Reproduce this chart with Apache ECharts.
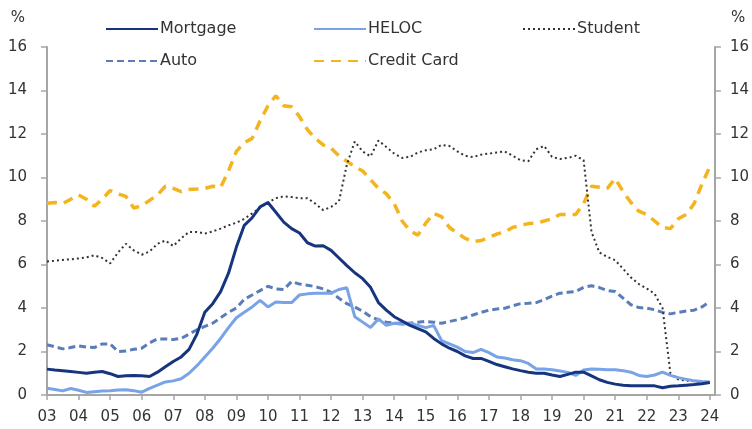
<!DOCTYPE html>
<html>
<head>
<meta charset="utf-8">
<script src="https://cdn.jsdelivr.net/npm/echarts@6/dist/echarts.min.js"></script>
<style>
html,body{margin:0;padding:0;background:#fff;}
#chart{width:752px;height:429px;}
</style>
</head>
<body>
<div id="chart"></div>
<script>
// Quarterly data, 2003Q1 .. 2024Q1 (percent)
var firstYear = 2003;
var yTicks = [0, 2, 4, 6, 8, 10, 12, 14, 16];

var mortgage = [1.19,1.15,1.12,1.08,1.04,1.00,1.05,1.08,0.98,0.85,0.88,0.90,0.88,0.85,1.05,1.30,
  1.54,1.75,2.10,2.80,3.80,4.20,4.75,5.60,6.80,7.80,8.15,8.65,8.85,8.40,7.95,7.65,
  7.45,7.00,6.85,6.86,6.65,6.30,5.95,5.62,5.35,4.95,4.25,3.90,3.60,3.40,3.20,3.05,
  2.90,2.60,2.35,2.15,2.00,1.80,1.68,1.68,1.55,1.40,1.30,1.20,1.12,1.05,1.00,1.00,
  0.92,0.85,0.95,1.05,1.05,0.88,0.70,0.58,0.50,0.45,0.42,0.42,0.42,0.42,0.33,0.40,
  0.42,0.45,0.48,0.52,0.57];

var heloc = [0.31,0.25,0.19,0.30,0.22,0.12,0.15,0.18,0.20,0.23,0.24,0.20,0.13,0.30,0.45,0.60,
  0.65,0.75,1.00,1.35,1.75,2.15,2.60,3.10,3.55,3.80,4.05,4.35,4.05,4.28,4.25,4.25,
  4.60,4.65,4.68,4.68,4.68,4.85,4.93,3.60,3.35,3.10,3.50,3.20,3.30,3.25,3.30,3.20,
  3.10,3.20,2.50,2.35,2.20,2.00,1.95,2.10,1.95,1.75,1.70,1.62,1.58,1.45,1.20,1.20,
  1.16,1.10,1.04,0.90,1.15,1.20,1.18,1.16,1.16,1.12,1.05,0.90,0.85,0.92,1.05,0.90,
  0.80,0.72,0.65,0.62,0.60];

var student = [6.14,6.17,6.21,6.24,6.28,6.33,6.42,6.30,6.05,6.55,6.95,6.65,6.45,6.60,6.95,7.10,
  6.85,7.20,7.50,7.50,7.42,7.52,7.65,7.80,7.92,8.10,8.35,8.60,8.85,9.05,9.13,9.10,
  9.05,9.05,8.80,8.50,8.65,8.90,10.60,11.65,11.20,10.97,11.70,11.40,11.10,10.90,10.95,11.15,
  11.25,11.30,11.50,11.45,11.20,11.00,10.94,11.05,11.10,11.15,11.20,11.00,10.80,10.75,11.30,11.45,
  10.95,10.85,10.90,11.00,10.80,7.50,6.55,6.35,6.20,5.80,5.40,5.10,4.90,4.65,4.00,1.00,
  0.72,0.66,0.63,0.60,0.58];

var auto = [2.31,2.22,2.12,2.18,2.26,2.20,2.18,2.35,2.35,2.00,2.02,2.10,2.15,2.40,2.58,2.58,
  2.55,2.60,2.80,3.00,3.15,3.30,3.55,3.80,4.00,4.40,4.60,4.80,5.00,4.88,4.85,5.22,
  5.10,5.05,4.98,4.88,4.72,4.45,4.20,4.05,3.85,3.60,3.46,3.35,3.30,3.30,3.30,3.35,
  3.38,3.35,3.30,3.38,3.46,3.55,3.68,3.80,3.90,3.95,3.99,4.10,4.20,4.22,4.25,4.38,
  4.55,4.68,4.72,4.76,4.95,5.02,4.94,4.80,4.76,4.45,4.15,4.02,3.99,3.92,3.80,3.73,
  3.80,3.86,3.90,4.05,4.30];

var creditCard = [8.82,8.85,8.80,9.00,9.20,9.00,8.68,9.00,9.40,9.25,9.13,8.60,8.70,8.95,9.20,9.60,
  9.50,9.35,9.45,9.47,9.50,9.60,9.55,10.30,11.20,11.60,11.80,12.60,13.30,13.76,13.30,13.25,
  12.80,12.20,11.80,11.50,11.35,11.00,10.75,10.50,10.30,9.90,9.50,9.25,8.80,8.00,7.55,7.35,
  7.90,8.35,8.20,7.70,7.45,7.20,7.06,7.10,7.25,7.40,7.50,7.70,7.80,7.88,7.90,8.00,
  8.10,8.30,8.30,8.30,8.80,9.60,9.55,9.50,9.95,9.35,8.85,8.45,8.30,8.00,7.70,7.65,
  8.10,8.30,8.80,9.70,10.50];

// quarter positions (2003.00, 2003.25, ...)
var quarters = [];
for (var i = 0; i < mortgage.length; i++) quarters.push(firstYear + i / 4);

function pairs(arr) {
  return arr.map(function (v, i) { return [quarters[i], v]; });
}

var FONT = 'DejaVu Sans';
var TXT = '#333333';
var AXIS = '#a6a6a6';

var chart = echarts.init(document.getElementById('chart'), null, {renderer: 'canvas'});

function legendAt(name, left, top) {
  return {
    data: [name], left: left, top: top,
    itemWidth: 52, itemHeight: 14, itemGap: 0, padding: 0,
    itemStyle: {opacity: 0},
    textStyle: {fontFamily: FONT, fontSize: 16, color: TXT, padding: [0, 0, 0, -3]}
  };
}

var yAxisBase = {
  type: 'value', min: 0, max: 16, interval: 2,
  splitLine: {show: false},
  axisLine: {show: true, lineStyle: {color: AXIS, width: 2}},
  axisTick: {show: true, length: 6, lineStyle: {color: AXIS, width: 1.5}}
};

chart.setOption({
  animation: false,
  backgroundColor: '#ffffff',
  grid: {left: 47, right: 35, top: 47, bottom: 34, containLabel: false},
  legend: [
    legendAt('Mortgage', 105, 21),
    legendAt('HELOC', 313, 21),
    legendAt('Student', 522, 21),
    legendAt('Auto', 105, 53),
    legendAt('Credit Card', 313, 53)
  ],
  xAxis: {
    type: 'value', min: 2003, max: 2024.16, interval: 1,
    splitLine: {show: false},
    axisLine: {show: true, onZero: false, lineStyle: {color: AXIS, width: 2}},
    axisTick: {show: true, length: 5, lineStyle: {color: AXIS, width: 1.5}},
    axisLabel: {
      margin: 15, fontFamily: FONT, fontSize: 15, color: TXT,
      showMaxLabel: false,
      formatter: function (v) { return Number.isInteger(v) ? String(v).slice(2) : ''; }
    }
  },
  yAxis: [
    Object.assign({}, yAxisBase, {
      position: 'left',
      name: '%', nameLocation: 'end', nameGap: 29,
      nameTextStyle: {fontFamily: FONT, fontSize: 15, color: TXT, align: 'right', verticalAlign: 'middle', padding: [0, 22, 0, 0]},
      axisLabel: {margin: 20, fontFamily: FONT, fontSize: 15, color: TXT}
    }),
    Object.assign({}, yAxisBase, {
      position: 'right',
      name: '%', nameLocation: 'end', nameGap: 29,
      nameTextStyle: {fontFamily: FONT, fontSize: 15, color: TXT, align: 'left', verticalAlign: 'middle', padding: [0, 0, 0, 16]},
      axisLabel: {margin: 15, fontFamily: FONT, fontSize: 15, color: TXT}
    })
  ],
  series: [
    {name: 'Auto', type: 'line', data: pairs(auto), symbol: 'none', z: 2,
      lineStyle: {color: '#5a7cb8', width: 3, type: [7, 4]}, itemStyle: {color: '#5a7cb8'}},
    {name: 'Credit Card', type: 'line', data: pairs(creditCard), symbol: 'none', z: 2,
      lineStyle: {color: '#f4b41e', width: 3.5, type: [10, 7]}, itemStyle: {color: '#f4b41e'}},
    {name: 'Student', type: 'line', data: pairs(student), symbol: 'none', z: 3,
      lineStyle: {color: '#333333', width: 2, type: [2, 3]}, itemStyle: {color: '#333333'}},
    {name: 'HELOC', type: 'line', data: pairs(heloc), symbol: 'none', z: 4,
      lineStyle: {color: '#78a3e6', width: 3}, itemStyle: {color: '#78a3e6'}},
    {name: 'Mortgage', type: 'line', data: pairs(mortgage), symbol: 'none', z: 5,
      lineStyle: {color: '#17357f', width: 3}, itemStyle: {color: '#17357f'}}
  ]
});
</script>
</body>
</html>
